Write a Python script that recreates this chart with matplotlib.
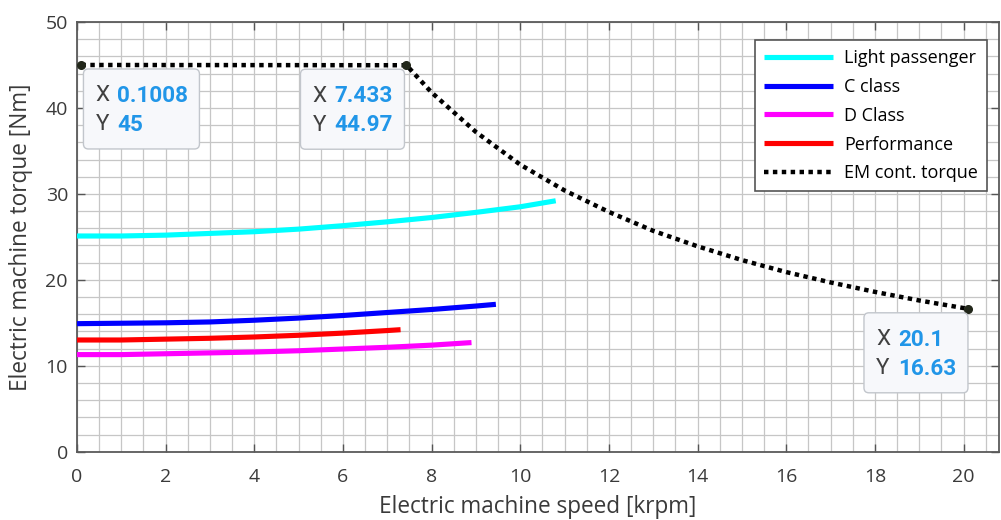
import matplotlib
matplotlib.use('Agg')
import matplotlib.pyplot as plt
import matplotlib.transforms as mtransforms
from matplotlib.patches import FancyBboxPatch
from matplotlib.ticker import MultipleLocator

# speed [krpm] / torque [Nm]
light_x = [0, 1, 2, 3, 4, 5, 6, 7, 8, 9, 10, 10.8]
light_y = [25.1, 25.1, 25.2, 25.4, 25.6, 25.9, 26.3, 26.75, 27.25, 27.85, 28.5, 29.2]

cclass_x = [0, 1, 2, 3, 4, 5, 6, 7, 8, 9, 9.45]
cclass_y = [14.9, 14.95, 15.0, 15.1, 15.3, 15.55, 15.85, 16.2, 16.55, 16.95, 17.15]

dclass_x = [0, 1, 2, 3, 4, 5, 6, 7, 8, 8.9]
dclass_y = [11.3, 11.3, 11.4, 11.5, 11.6, 11.75, 11.95, 12.15, 12.4, 12.7]

perf_x = [0, 1, 2, 3, 4, 5, 6, 7, 7.3]
perf_y = [13.0, 13.0, 13.1, 13.2, 13.35, 13.55, 13.8, 14.1, 14.2]

em_x = [0.1008, 7.433, 8, 9, 10, 11, 12, 13, 14, 15, 16, 17, 18, 19, 20.1]
em_y = [45, 44.97, 41.8, 37.2, 33.4, 30.4, 27.9, 25.7, 23.9, 22.3, 20.9, 19.7, 18.6, 17.6, 16.63]

# data tips
tips_x = [0.1008, 7.433, 20.1]
tips_y = [45, 44.97, 16.63]
tips_xtxt = ['0.1008', '7.433', '20.1']
tips_ytxt = ['45', '44.97', '16.63']

series_names = ['Light passenger', 'C class', 'D Class', 'Performance', 'EM cont. torque']

fig = plt.figure(figsize=(10.01, 5.2), dpi=100)
ax = fig.add_axes([0.0769, 0.1313, 0.9211, 0.8264])

lw = 3.7
ax.plot(light_x, light_y, color='#00ffff', lw=lw, solid_capstyle='butt', label=series_names[0], zorder=3)
ax.plot(cclass_x, cclass_y, color='#0000ff', lw=lw, solid_capstyle='butt', label=series_names[1], zorder=3)
ax.plot(dclass_x, dclass_y, color='#ff00ff', lw=lw, solid_capstyle='butt', label=series_names[2], zorder=3)
ax.plot(perf_x, perf_y, color='#ff0000', lw=lw, solid_capstyle='butt', label=series_names[3], zorder=3)
ax.plot(em_x, em_y, color='black', lw=3.2, dashes=(1, 1), dash_capstyle='butt',
        label=series_names[4], zorder=4)

ax.plot(tips_x, tips_y, 'o', ms=5.5, color='#22271a', zorder=5)

ax.set_xlim(0, 20.8)
ax.set_ylim(0, 50)
ax.xaxis.set_major_locator(MultipleLocator(2))
ax.xaxis.set_minor_locator(MultipleLocator(0.5))
ax.yaxis.set_major_locator(MultipleLocator(10))
ax.yaxis.set_minor_locator(MultipleLocator(2))
ax.grid(which='both', color='#c6c6c6', lw=0.9)
ax.set_axisbelow(True)

ax.tick_params(which='major', direction='in', length=6, width=1, color='#555555',
               top=True, right=True, labelsize=14, labelcolor='#3a3a3a')
ax.tick_params(axis='x', pad=11.5)
ax.tick_params(axis='y', pad=6.5)
ax.tick_params(which='minor', length=0)
for lab in ax.get_xticklabels() + ax.get_yticklabels():
    lab.set_fontfamily('Open Sans')
for sp in ax.spines.values():
    sp.set_color('#5a5a5a')
    sp.set_linewidth(1.3)

ax.set_xlabel('Electric machine speed [krpm]', fontsize=16.3, family='Open Sans',
              color='#3a3a3a', labelpad=7)
ax.set_ylabel('Electric machine torque [Nm]', fontsize=16.3, family='Open Sans',
              color='#3a3a3a', labelpad=9)

leg = ax.legend(loc='upper right', bbox_to_anchor=(0.987, 0.958), fancybox=False,
                framealpha=1, edgecolor='#555555', prop={'family': 'Open Sans', 'size': 13},
                handlelength=3.85, handletextpad=0.6, labelspacing=0.6, borderpad=0.5,
                borderaxespad=0)
leg.get_frame().set_linewidth(1.2)

# data tip boxes, sized in pixels and anchored at the marker
box_offsets = [(2, -4), (-106, -4), (-104, -4)]
for x, y, xt, yt, (dx, dy) in zip(tips_x, tips_y, tips_xtxt, tips_ytxt, box_offsets):
    trans = mtransforms.Affine2D() + mtransforms.ScaledTranslation(x, y, ax.transData)
    box = FancyBboxPatch((dx, dy - 80), 104 if dx < 0 else 116, 80,
                         boxstyle='round,pad=0,rounding_size=5', transform=trans,
                         facecolor='#f7f8fb', edgecolor='#c2c6cc', lw=1.0, zorder=6)
    ax.add_patch(box)
    for row, (name, val) in enumerate([('X', xt), ('Y', yt)]):
        oy = dy - 27 - 29 * row
        ax.annotate(name, xy=(x, y), xycoords='data', xytext=(dx + 12, oy),
                    textcoords='offset pixels', va='center', ha='left',
                    fontsize=16.2, family='Roboto', color='#404040', zorder=7)
        ax.annotate(val, xy=(x, y), xycoords='data', xytext=(dx + 34, oy),
                    textcoords='offset pixels', va='center', ha='left',
                    fontsize=16.2, family='Roboto', fontweight='bold',
                    color='#2196e8', zorder=7)

fig.savefig('out.png', dpi=100)
